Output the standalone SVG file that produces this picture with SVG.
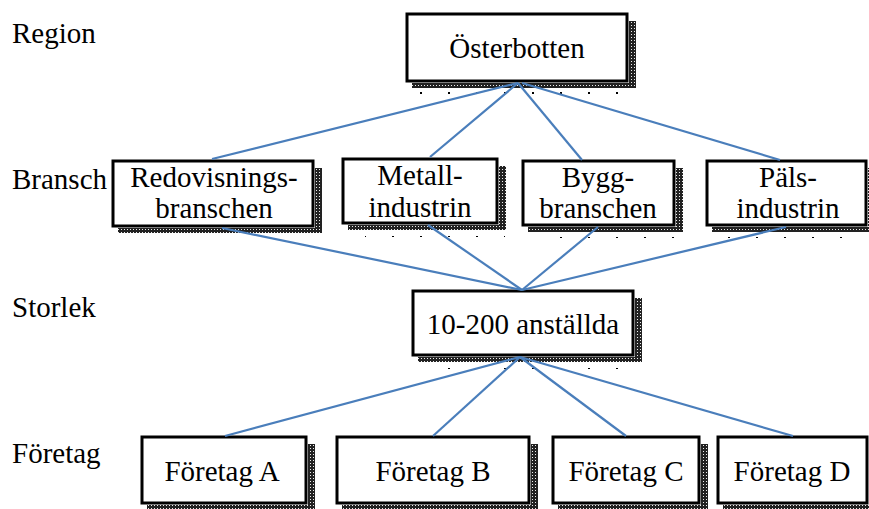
<svg xmlns="http://www.w3.org/2000/svg" width="869" height="509" viewBox="0 0 869 509">
  <defs>
    <!-- stippled drop-shadow texture: dark base with light specks -->
    <pattern id="dither" x="0" y="0" width="3" height="3" patternUnits="userSpaceOnUse">
      <rect x="0" y="0" width="3" height="3" fill="#222"/>
      <rect x="1" y="1" width="1" height="1" fill="#eee"/>
    </pattern>
    <pattern id="sparse" x="0" y="0" width="28" height="4" patternUnits="userSpaceOnUse">
      <rect x="0" y="0" width="2" height="2" fill="#000"/>
    </pattern>
    <style>
      .box { fill: #fff; stroke: #000; stroke-width: 3; }
      .sh { fill: url(#dither); }
      .t { font-family: "Liberation Serif", "Times New Roman", serif; font-size: 29px; fill: #000; }
      .c { text-anchor: middle; }
      .edge { stroke: #4a7ebb; stroke-width: 2.2; fill: none; stroke-linecap: butt; }
    </style>
  </defs>
  <rect width="869" height="509" fill="#fff"/>

  <!-- level labels -->
  <g id="levels">
    <text class="t" x="12" y="43">Region</text>
    <text class="t" x="12" y="189">Bransch</text>
    <text class="t" x="12" y="317">Storlek</text>
    <text class="t" x="12" y="463">Företag</text>
  </g>

  <!-- Region -->
  <g id="osterbotten">
    <rect class="sh" x="629" y="21" width="7" height="67"/>
    <rect class="sh" x="412" y="83" width="224" height="5"/>
    <rect fill="url(#sparse)" x="420" y="92" width="214" height="2"/>
    <rect class="box" x="407" y="14" width="220" height="67"/>
    <text class="t c" x="517" y="58">Österbotten</text>
  </g>

  <!-- Bransch -->
  <g id="redovisning">
    <rect class="sh" x="315" y="168" width="7" height="64"/>
    <rect class="sh" x="118" y="228" width="204" height="5"/>
    <rect fill="url(#sparse)" x="135" y="238" width="184" height="2"/>
    <rect class="box" x="113" y="161" width="200" height="65"/>
    <text class="t c" x="214" y="187">Redovisnings-</text>
    <text class="t c" x="214" y="218">branschen</text>
  </g>
  <g id="metall">
    <rect class="sh" x="499" y="166" width="7" height="64"/>
    <rect class="sh" x="348" y="225" width="158" height="5"/>
    <rect fill="url(#sparse)" x="365" y="235" width="140" height="2"/>
    <rect class="box" x="343" y="159" width="154" height="64"/>
    <text class="t c" x="420" y="185">Metall-</text>
    <text class="t c" x="420" y="217">industrin</text>
  </g>
  <g id="bygg">
    <rect class="sh" x="676" y="168" width="7" height="63"/>
    <rect class="sh" x="528" y="227" width="155" height="5"/>
    <rect fill="url(#sparse)" x="545" y="237" width="135" height="2"/>
    <rect class="box" x="523" y="161" width="151" height="64"/>
    <text class="t c" x="598" y="187">Bygg-</text>
    <text class="t c" x="598" y="218">branschen</text>
  </g>
  <g id="pals">
    <rect class="sh" x="868" y="168" width="7" height="63"/>
    <rect class="sh" x="712" y="227" width="160" height="5"/>
    <rect fill="url(#sparse)" x="728" y="237" width="140" height="2"/>
    <rect class="box" x="707" y="161" width="159" height="64"/>
    <text class="t c" x="788" y="187">Päls-</text>
    <text class="t c" x="788" y="218">industrin</text>
  </g>

  <!-- Storlek -->
  <g id="storlek">
    <rect class="sh" x="635" y="298" width="7" height="63"/>
    <rect class="sh" x="418" y="357" width="224" height="5"/>
    <rect fill="url(#sparse)" x="435" y="367" width="205" height="2"/>
    <rect class="box" x="413" y="291" width="220" height="64"/>
    <text class="t c" x="523" y="334">10-200 anställda</text>
  </g>

  <!-- Företag -->
  <g id="foretagA">
    <rect class="sh" x="308" y="444" width="7" height="66"/>
    <rect class="sh" x="147" y="505" width="168" height="5"/>
    <rect class="box" x="142" y="437" width="164" height="66"/>
    <text class="t c" x="222" y="481">Företag A</text>
  </g>
  <g id="foretagB">
    <rect class="sh" x="531" y="444" width="7" height="66"/>
    <rect class="sh" x="342" y="505" width="196" height="5"/>
    <rect class="box" x="337" y="437" width="192" height="66"/>
    <text class="t c" x="433" y="481">Företag B</text>
  </g>
  <g id="foretagC">
    <rect class="sh" x="701" y="444" width="7" height="66"/>
    <rect class="sh" x="558" y="505" width="150" height="5"/>
    <rect class="box" x="553" y="437" width="146" height="66"/>
    <text class="t c" x="626" y="481">Företag C</text>
  </g>
  <g id="foretagD">
    <rect class="sh" x="869" y="444" width="7" height="66"/>
    <rect class="sh" x="723" y="505" width="153" height="5"/>
    <rect class="box" x="718" y="437" width="149" height="66"/>
    <text class="t c" x="792" y="481">Företag D</text>
  </g>

  <!-- connectors, drawn over the shadows and meeting the box edges -->
  <g id="connectors">
    <line class="edge" x1="518" y1="83" x2="212" y2="159"/>
    <line class="edge" x1="518" y1="83" x2="430" y2="157"/>
    <line class="edge" x1="518" y1="83" x2="582" y2="160"/>
    <line class="edge" x1="522" y1="83" x2="780" y2="160"/>

    <line class="edge" x1="222" y1="228" x2="522" y2="290"/>
    <line class="edge" x1="428" y1="225" x2="522" y2="290"/>
    <line class="edge" x1="598" y1="227" x2="522" y2="290"/>
    <line class="edge" x1="786" y1="227" x2="522" y2="290"/>

    <line class="edge" x1="520" y1="357" x2="225" y2="436"/>
    <line class="edge" x1="520" y1="357" x2="433" y2="436"/>
    <line class="edge" x1="520" y1="357" x2="626" y2="436"/>
    <line class="edge" x1="520" y1="357" x2="793" y2="436"/>
  </g>
</svg>
